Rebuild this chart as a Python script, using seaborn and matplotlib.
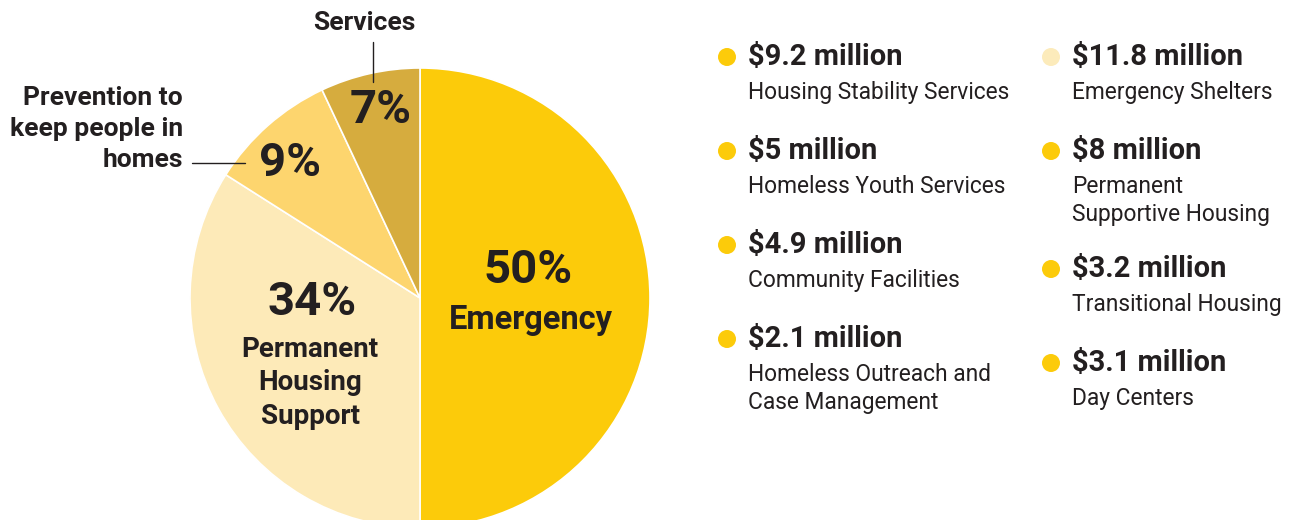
import matplotlib.pyplot as plt
import seaborn as sns
from matplotlib.patches import Circle

# Pie slices (clockwise from the top)
slice_labels = ["Emergency", "Permanent\nHousing\nSupport", "Prevention to\nkeep people in\nhomes", "Services"]
slice_shares = [50, 34, 9, 7]
slice_colors = ["#FCCB0A", "#FDEAB8", "#FDD56E", "#D6AC3E"]

# Budget breakdown shown on the right
left_amounts = ["$9.2 million", "$5 million", "$4.9 million", "$2.1 million"]
left_programs = ["Housing Stability Services", "Homeless Youth Services",
                 "Community Facilities", "Homeless Outreach and\nCase Management"]
left_dots = ["#FCCB0A", "#FCCB0A", "#FCCB0A", "#FCCB0A"]
right_amounts = ["$11.8 million", "$8 million", "$3.2 million", "$3.1 million"]
right_programs = ["Emergency Shelters", "Permanent\nSupportive Housing",
                  "Transitional Housing", "Day Centers"]
right_dots = ["#FCEBBB", "#FCCB0A", "#FCCB0A", "#FCCB0A"]

sns.set_theme(style="white")
plt.rcParams["font.family"] = ["Roboto", "DejaVu Sans"]
TXT = "#231F20"

W, H = 1297, 520
fig = plt.figure(figsize=(W / 100, H / 100), dpi=100)
ax = fig.add_axes([0, 0, 1, 1])


def Y(y):
    return H - y


cx, cy, r = 420, Y(298), 230
ax.pie(slice_shares, colors=slice_colors, startangle=90, counterclock=False,
       center=(cx, cy), radius=r, frame=True,
       wedgeprops=dict(edgecolor="white", linewidth=1.2))
ax.set_xlim(0, W)
ax.set_ylim(0, H)
ax.set_aspect("equal")
ax.axis("off")

# Slice labels
pct = dict(fontsize=34, fontweight="bold", color=TXT, ha="center", va="center")
ax.text(528, Y(270), f"{slice_shares[0]}%", **pct)
ax.text(531, Y(320), slice_labels[0], fontsize=23.5, fontweight="bold", color=TXT, ha="center", va="center")
ax.text(312, Y(302), f"{slice_shares[1]}%", **pct)
ax.text(310, Y(383), slice_labels[1], fontsize=20, fontweight="bold", color=TXT, ha="center", va="center",
        linespacing=1.3)
ax.text(290, Y(163), f"{slice_shares[2]}%", **pct)
ax.text(183, Y(129), slice_labels[2], fontsize=19, fontweight="bold", color=TXT, ha="right", va="center",
        linespacing=1.35, multialignment="right")
ax.plot([192, 245], [Y(163), Y(163)], color=TXT, lw=1)
ax.text(381, Y(110), f"{slice_shares[3]}%", **pct)
ax.text(364, Y(23), slice_labels[3], fontsize=19, fontweight="bold", color=TXT, ha="center", va="center")
ax.plot([373, 373], [Y(42), Y(82)], color=TXT, lw=1)


# Legend columns
def column(x, amounts, programs, dots):
    y = 57
    for amt, prog, col in zip(amounts, programs, dots):
        ax.add_patch(Circle((x, Y(y)), 9, color=col, lw=0))
        ax.text(x + 21, Y(y), amt, fontsize=21, fontweight="bold", color=TXT, ha="left", va="center")
        ax.text(x + 21, Y(y + 24), prog, fontsize=16.4, color=TXT, ha="left", va="top", linespacing=1.3)
        y += 94 + 24 * prog.count("\n")


column(727, left_amounts, left_programs, left_dots)
column(1051, right_amounts, right_programs, right_dots)

plt.savefig("out.png", dpi=100)
